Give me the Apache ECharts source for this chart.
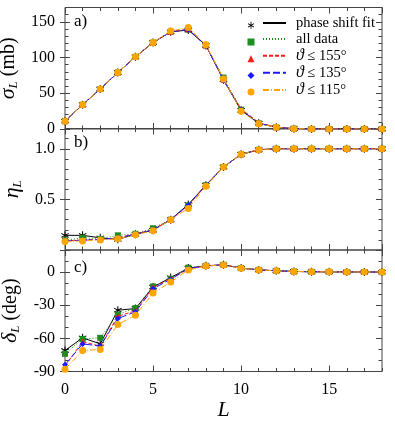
<!DOCTYPE html>
<html>
<head>
<meta charset="utf-8">
<script src="https://cdn.jsdelivr.net/npm/echarts@6/dist/echarts.min.js"></script>
<style>
  html, body { margin: 0; padding: 0; background: #fff; }
  #chart { width: 395px; height: 423px; }
</style>
</head>
<body>
<div id="chart"></div>
<script>
// partial waves
const L = [0, 1, 2, 3, 4, 5, 6, 7, 8, 9, 10, 11, 12, 13, 14, 15, 16, 17, 18];
const seriesNames = ['phase shift fit', 'all data', 'ϑ ≤ 155°', 'ϑ ≤ 135°', 'ϑ ≤ 115°'];

// a) sigma_L (mb)
const sigmaFit  = [11, 34, 56, 79, 101, 121, 136, 138.5, 117, 69, 26, 8, 2.3, 0.5, 0.1, 0, 0, 0, 0];
const sigmaAll  = [11, 34, 56, 79, 101, 121, 136, 139, 117, 72, 27, 8, 2.3, 0.5, 0.1, 0, 0, 0, 0];
const sigma155  = [11, 34, 56, 79, 101, 121, 136, 139.5, 117, 69, 28, 9, 2.5, 0.5, 0.1, 0, 0, 0, 0];
const sigma135  = [11, 34, 56, 79, 101, 121, 136, 139, 117, 68, 27, 8, 2.3, 0.5, 0.1, 0, 0, 0, 0];
const sigma115  = [11, 34, 56, 79, 101, 121, 137, 142, 118, 70, 25, 7.5, 2.3, 0.5, 0.1, 0, 0, 0, 0];

// b) eta_L
const etaFit = [0.145, 0.145, 0.12, 0.105, 0.155, 0.195, 0.30, 0.45, 0.64, 0.82, 0.945, 0.99, 1, 1, 1, 1, 1, 1, 1];
const etaAll = [0.096, 0.12, 0.11, 0.145, 0.16, 0.215, 0.30, 0.44, 0.64, 0.82, 0.945, 0.99, 1, 1, 1, 1, 1, 1, 1];
const eta155 = [0.09, 0.10, 0.105, 0.12, 0.16, 0.20, 0.30, 0.44, 0.64, 0.82, 0.945, 0.99, 1, 1, 1, 1, 1, 1, 1];
const eta135 = [0.09, 0.095, 0.105, 0.12, 0.155, 0.20, 0.30, 0.445, 0.64, 0.82, 0.945, 0.99, 1, 1, 1, 1, 1, 1, 1];
const eta115 = [0.083, 0.09, 0.10, 0.11, 0.15, 0.19, 0.30, 0.41, 0.63, 0.82, 0.945, 0.99, 1, 1, 1, 1, 1, 1, 1];

// c) delta_L (deg)
const deltaFit = [-71, -59.5, -65, -34.5, -33, -13.5, -5, 3.6, 5.7, 6.6, 3.6, 2, 1.2, 0.6, 0.3, 0.2, 0.1, 0.1, 0];
const deltaAll = [-74, -60.5, -59.5, -38.4, -32.5, -13, -6, 4, 5.7, 6.6, 3.6, 2, 1.2, 0.6, 0.3, 0.2, 0.1, 0.1, 0];
const delta155 = [-85, -63, -67, -40, -35, -14, -6, 3, 5.5, 6.6, 3.6, 2, 1.2, 0.6, 0.3, 0.2, 0.1, 0.1, 0];
const delta135 = [-84, -65, -67, -42, -36, -15, -6.5, 3, 5.5, 6.6, 3.6, 2, 1.2, 0.6, 0.3, 0.2, 0.1, 0.1, 0];
const delta115 = [-88, -71, -70, -47.5, -39, -19, -9, 2, 5.5, 6.5, 3.4, 2, 1.2, 0.6, 0.3, 0.2, 0.1, 0.1, 0];

const FONT = 'Liberation Serif';
const AXIS_COLOR = '#444';
const STAR = 'path://M8.8,0 L11.2,0 L11.2,20 L8.8,20 Z M18.06,3.96 L19.26,6.04 L1.94,16.04 L0.74,13.96 Z M19.26,13.96 L18.06,16.04 L0.74,6.04 L1.94,3.96 Z';

const styles = [
  { color: '#000000', symbol: STAR, size: 8, type: 'solid' },
  { color: '#1e8c1e', symbol: 'rect', size: 6, type: [1, 2] },
  { color: '#ff1a1a', symbol: 'triangle', size: 6, type: [4, 2] },
  { color: '#1a1aff', symbol: 'diamond', size: 6, type: [7, 3] },
  { color: '#ffa500', symbol: 'circle', size: 7, type: [6, 2, 1, 2] }
];

const panels = [
  { data: [sigmaFit, sigmaAll, sigma155, sigma135, sigma115], min: 0, max: 170, major: 50, minor: 10,
    name: '{g|σ}{s|L}{t| (mb)}', nameGap: 43,
    fmt: v => (v > 160 ? '' : String(v)) },
  { data: [etaFit, etaAll, eta155, eta135, eta115], min: 0, max: 1.2, major: 0.5, minor: 0.1,
    name: '{g|η}{s|L}', nameGap: 35,
    fmt: v => (v === 0 || v > 1.1 ? '' : v.toFixed(1)) },
  { data: [deltaFit, deltaAll, delta155, delta135, delta115], min: -90, max: 20, major: 30, minor: 10,
    name: '{g|δ}{s|L}{t| (deg)}', nameGap: 43,
    fmt: v => (v > 0 ? '' : String(v)) }
];

const gridTops = [7.5, 128.5, 250];
const gridH = 121.5;

const nameRich = {
  g: { fontFamily: FONT, fontSize: 22, fontStyle: 'italic', color: '#000' },
  s: { fontFamily: FONT, fontSize: 13, fontStyle: 'italic', color: '#000', padding: [10, 0, 0, 0] },
  t: { fontFamily: FONT, fontSize: 20, color: '#000' }
};

function tickAxis(gridIndex, pos, min, max, interval, len, extra) {
  return Object.assign({
    type: 'value', gridIndex: gridIndex, position: pos, min: min, max: max, interval: interval,
    axisLine: { show: false, onZero: false },
    splitLine: { show: false },
    axisTick: { show: true, inside: true, length: len, lineStyle: { color: AXIS_COLOR, width: 1 } },
    axisLabel: { show: false }
  }, extra || {});
}

const grids = [], xAxes = [], yAxes = [], series = [];
panels.forEach((p, g) => {
  grids.push({ left: 65, right: 13, top: gridTops[g], height: gridH, show: true,
    containLabel: false, outerBoundsMode: 'none',
    borderColor: AXIS_COLOR, borderWidth: 1 });

  // x: main bottom, minor bottom, top major, top minor
  const last = g === 2;
  xAxes.push(tickAxis(g, 'bottom', 0, 18, 5, 6, last ? {
    axisLabel: { show: true, margin: 10, fontFamily: FONT, fontSize: 16, color: '#000', showMaxLabel: false },
    name: 'L', nameLocation: 'middle', nameGap: 28,
    nameTextStyle: { fontFamily: FONT, fontSize: 22, fontStyle: 'italic', color: '#000' }
  } : {}));
  xAxes.push(tickAxis(g, 'bottom', 0, 18, 1, 3.5));
  xAxes.push(tickAxis(g, 'top', 0, 18, 5, 6));
  xAxes.push(tickAxis(g, 'top', 0, 18, 1, 3.5));

  // y: main left (labels, outward ticks), left major inside, left minor, right major, right minor
  yAxes.push(tickAxis(g, 'left', p.min, p.max, p.major, 5, {
    axisTick: { show: true, inside: false, length: 5, lineStyle: { color: AXIS_COLOR, width: 1 } },
    axisLabel: { show: true, margin: 10, fontFamily: FONT, fontSize: 16, color: '#000',
      showMaxLabel: false, formatter: p.fmt },
    name: p.name, nameLocation: 'middle', nameGap: p.nameGap, nameRotate: 90,
    nameTextStyle: { fontFamily: FONT, fontSize: 20, color: '#000', rich: nameRich }
  }));
  yAxes.push(tickAxis(g, 'left', p.min, p.max, p.major, 5));
  yAxes.push(tickAxis(g, 'left', p.min, p.max, p.minor, 3.5));
  yAxes.push(tickAxis(g, 'right', p.min, p.max, p.major, 6));
  yAxes.push(tickAxis(g, 'right', p.min, p.max, p.minor, 3.5));

  p.data.forEach((vals, k) => {
    const s = styles[k];
    series.push({
      name: seriesNames[k], type: 'line', xAxisIndex: g * 4, yAxisIndex: g * 5,
      data: L.map((l, i) => [l, vals[i]]),
      symbol: s.symbol, symbolSize: s.size,
      itemStyle: { color: s.color },
      lineStyle: { color: s.color, width: 1, type: s.type },
      z: 2 + k
    });
  });
});

const chart = echarts.init(document.getElementById('chart'));
chart.setOption({
  animation: false,
  backgroundColor: '#fff',
  grid: grids,
  xAxis: xAxes,
  yAxis: yAxes,
  title: [
    { text: 'a)', left: 74, top: 13 },
    { text: 'b)', left: 74, top: 134 },
    { text: 'c)', left: 74, top: 259 }
  ].map(t => Object.assign(t, { padding: 0,
    textStyle: { fontFamily: FONT, fontSize: 17, fontWeight: 'normal', color: '#000' } })),
  legend: [
    {
      // symbols column
      left: 247.5, top: 21.8, orient: 'vertical', selectedMode: false, padding: 0,
      itemWidth: 7, itemHeight: 7, itemGap: 9.7,
      data: seriesNames.map((n, k) => ({ name: n, icon: styles[k].symbol })),
      formatter: () => '',
      textStyle: { fontSize: 1 }
    },
    {
      // line samples with labels
      left: 262, top: 15.5, orient: 'vertical', selectedMode: false, padding: 0,
      itemWidth: 23, itemHeight: 16, itemGap: 1.1,
      itemStyle: { opacity: 0 },
      data: seriesNames,
      formatter: n => n.charAt(0) === 'ϑ' ? '{i|ϑ}' + n.slice(1) : n,
      textStyle: { fontFamily: FONT, fontSize: 14.5, color: '#000', padding: [0, 0, 0, 5],
        rich: { i: { fontFamily: FONT, fontSize: 16, fontStyle: 'italic', color: '#000' } } }
    }
  ],
  series: series
});
</script>
</body>
</html>
